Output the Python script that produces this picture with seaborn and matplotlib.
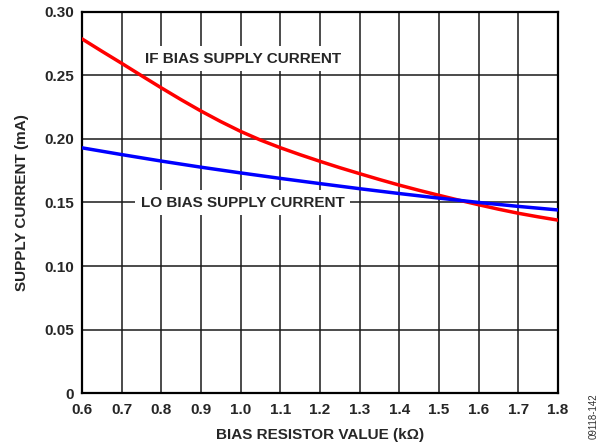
import matplotlib
matplotlib.use("Agg")
import matplotlib.pyplot as plt
import seaborn as sns
import pandas as pd

# IF bias supply current (mA) vs bias resistor (kOhm)
if_resistor = [0.60, 0.65, 0.70, 0.75, 0.80, 0.85, 0.90, 0.95, 1.00, 1.05,
               1.10, 1.15, 1.20, 1.25, 1.30, 1.35, 1.40, 1.45, 1.50, 1.55,
               1.60, 1.65, 1.70, 1.75, 1.80]
if_current = [0.2785, 0.2688, 0.2593, 0.2496, 0.2400, 0.2307, 0.2218, 0.2135,
              0.2058, 0.1990, 0.1930, 0.1875, 0.1823, 0.1773, 0.1726, 0.1680,
              0.1636, 0.1595, 0.1556, 0.1518, 0.1482, 0.1447, 0.1415, 0.1387,
              0.1361]

# LO bias supply current (mA) vs bias resistor (kOhm)
lo_resistor = [0.6, 0.7, 0.8, 0.9, 1.0, 1.1, 1.2, 1.3, 1.4, 1.5, 1.6, 1.7, 1.8]
lo_current = [0.1929, 0.1876, 0.1825, 0.1777, 0.1732, 0.1689, 0.1648, 0.1608,
              0.1570, 0.1534, 0.1500, 0.1469, 0.1441]

x_ticks = [0.6, 0.7, 0.8, 0.9, 1.0, 1.1, 1.2, 1.3, 1.4, 1.5, 1.6, 1.7, 1.8]
y_ticks = [0, 0.05, 0.10, 0.15, 0.20, 0.25, 0.30]
y_tick_labels = ["0", "0.05", "0.10", "0.15", "0.20", "0.25", "0.30"]

sns.set_style("white")
plt.rcParams["font.family"] = ["Liberation Sans", "DejaVu Sans"]
plt.rcParams["font.weight"] = "bold"

df = pd.DataFrame({
    "r": if_resistor + lo_resistor,
    "i": if_current + lo_current,
    "curve": ["IF"] * len(if_current) + ["LO"] * len(lo_current),
})

fig = plt.figure(figsize=(6.11, 4.47), dpi=100)
ax = fig.add_axes([82 / 611, 1 - 393.4 / 447, (558 - 82) / 611, (393.4 - 11.5) / 447])

sns.lineplot(data=df, x="r", y="i", hue="curve",
             palette={"IF": "#ff0000", "LO": "#0000ff"},
             linewidth=2.5, legend=False, ax=ax, zorder=3)

ax.set_xlim(0.6, 1.8)
ax.set_ylim(0, 0.30)
ax.set_xticks(x_ticks)
ax.set_xticklabels([f"{v:.1f}" for v in x_ticks])
ax.set_yticks(y_ticks)
ax.set_yticklabels(y_tick_labels)
ax.tick_params(axis="x", length=0, labelsize=11, pad=7)
ax.tick_params(axis="y", length=0, labelsize=11, pad=6)
for lbl in ax.get_xticklabels() + ax.get_yticklabels():
    lbl.set_fontweight("bold")

ax.grid(True, color="#1a1a1a", linewidth=1.1, zorder=1)
ax.set_axisbelow(True)
for s in ax.spines.values():
    s.set_color("black")
    s.set_linewidth(1.6)
    s.set_visible(True)

ax.set_xlabel("BIAS RESISTOR VALUE (k\u03a9)", fontsize=11, fontweight="bold", labelpad=8)
ax.set_ylabel("SUPPLY CURRENT (mA)", fontsize=11, fontweight="bold", labelpad=11)

box = dict(facecolor="white", edgecolor="none", pad=4)
ax.text(1.005, 0.2629, "IF BIAS SUPPLY CURRENT", fontsize=11, fontweight="bold",
        ha="center", va="center", bbox=box, zorder=4)
ax.text(1.005, 0.1497, "LO BIAS SUPPLY CURRENT", fontsize=11, fontweight="bold",
        ha="center", va="center", bbox=box, zorder=4)

fig.text(594 / 611, 1 - 416 / 447, "09118-142", fontsize=7, fontweight="normal",
         rotation=90, ha="center", va="center", color="#333333")

fig.savefig("out.png", dpi=100)
